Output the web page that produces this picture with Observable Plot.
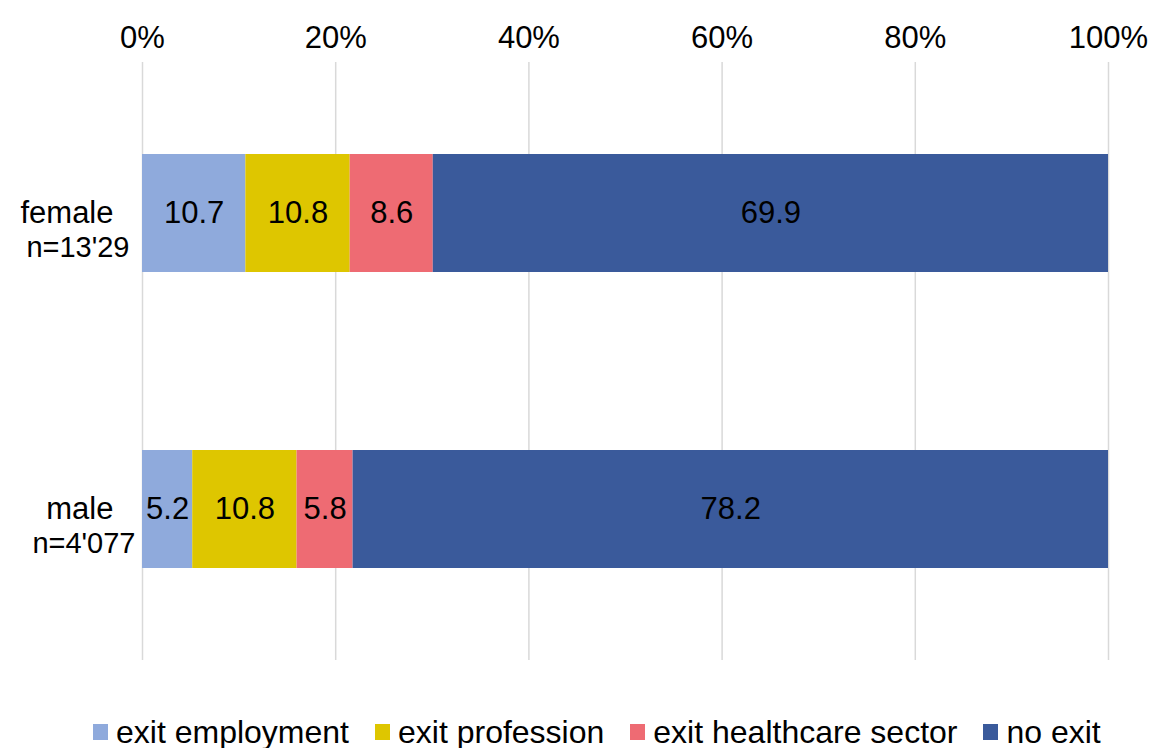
<!DOCTYPE html>
<html>
<head>
<meta charset="utf-8">
<script src="https://cdn.jsdelivr.net/npm/d3@7"></script>
<script src="https://cdn.jsdelivr.net/npm/@observablehq/plot@0.6"></script>
<style>
  html, body { margin: 0; padding: 0; background: #fff; }
  body { width: 1152px; height: 748px; overflow: hidden; font-family: "Liberation Sans", Arial, sans-serif; }
  #legend { display: flex; justify-content: flex-start; align-items: center; height: 58px; font-size: 32px; color: #000; padding-left: 93px; padding-top: 26px; box-sizing: border-box; white-space: nowrap; }
  .item { display: flex; align-items: center; margin-right: 26px; }
  .sw { width: 15px; height: 16px; margin-right: 8px; }
</style>
</head>
<body>
<div id="chart"></div>
<div id="legend"></div>
<script>
const categories = ["female", "male"];
const nLabels = ["n=13'29", "n=4'077"];
const series = ["exit employment", "exit profession", "exit healthcare sector", "no exit"];
const colors = ["#8faadc", "#dec600", "#ee6b73", "#3a5a9b"];
const femaleValues = [10.7, 10.8, 8.6, 69.9];
const maleValues = [5.2, 10.8, 5.8, 78.2];
const xTicks = [0, 20, 40, 60, 80, 100];

const valuesByCat = {female: femaleValues, male: maleValues};
const data = [];
for (const c of categories) {
  valuesByCat[c].forEach((v, i) => data.push({cat: c, series: series[i], value: v, order: i}));
}

const font = "Liberation Sans, Arial, sans-serif";
const nLabelMarks = categories.map((c, i) =>
  Plot.text([c], {x: 0, y: d => d, text: () => nLabels[i], textAnchor: "end", dx: i === 0 ? -13 : -7, dy: 34, fontSize: 29, fill: "#000"})
);

const plot = Plot.plot({
  width: 1152,
  height: 690,
  marginLeft: 142,
  marginRight: 44,
  marginTop: 62,
  marginBottom: 30,
  style: {fontFamily: font, fontSize: "31px", color: "#000", background: "#fff"},
  x: {domain: [0, 100], axis: null},
  y: {domain: categories, axis: null, paddingInner: 0.6, paddingOuter: 0.31},
  color: {domain: series, range: colors},
  marks: [
    Plot.ruleX(xTicks, {stroke: "#d9d9d9", strokeWidth: 1.5}),
    Plot.barX(data, Plot.stackX({x: "value", y: "cat", fill: "series", order: "order"})),
    Plot.text(data, Plot.stackX({x: "value", y: "cat", order: "order", text: d => d.value.toFixed(1), fill: "#000", fontSize: 31, dy: 0})),
    Plot.text(xTicks, {x: d => d, frameAnchor: "top", dy: -37, text: d => d + "%", fontSize: 31, fill: "#000"}),
    Plot.text(categories, {x: 0, y: d => d, text: d => d, textAnchor: "end", dx: -29, dy: 0, fontSize: 31, fill: "#000"}),
    ...nLabelMarks
  ]
});
document.getElementById("chart").appendChild(plot);

const legend = document.getElementById("legend");
series.forEach((s, i) => {
  const item = document.createElement("div");
  item.className = "item";
  const sw = document.createElement("span");
  sw.className = "sw";
  sw.style.background = colors[i];
  const t = document.createElement("span");
  t.textContent = s;
  item.appendChild(sw); item.appendChild(t);
  legend.appendChild(item);
});
</script>
</body>
</html>
